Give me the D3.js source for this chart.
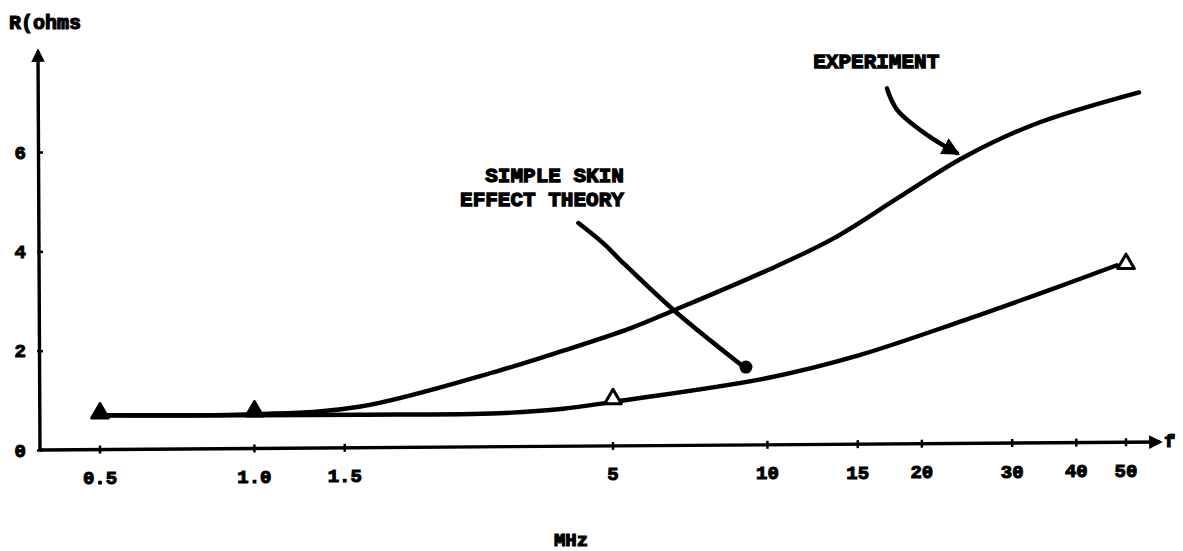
<!DOCTYPE html>
<html>
<head>
<meta charset="utf-8">
<script src="https://cdn.jsdelivr.net/npm/d3@7"></script>
<style>
  html, body { margin: 0; padding: 0; background: #fff; }
  svg { display: block; }
  text { font-family: "Liberation Mono", "DejaVu Sans Mono", monospace; font-weight: bold; fill: #000; stroke: #000; }
</style>
</head>
<body>
<svg id="chart" width="1183" height="551"></svg>
<script>
// ---------- data (MHz, ohms) ----------
const expFreq    = [0.5, 1.0, 1.6, 3.0, 4.0, 5.4, 6.6, 10, 13.4, 18, 24, 33, 53];
const expR       = [0.70, 0.72, 0.87, 1.60, 2.00, 2.45, 2.82, 3.62, 4.25, 5.08, 5.88, 6.55, 7.20];
const theoryFreq = [0.5, 1.0, 1.6, 3.0, 4.0, 5.0, 10, 15, 24, 35, 48];
const theoryR    = [0.70, 0.70, 0.71, 0.74, 0.83, 0.97, 1.45, 1.90, 2.60, 3.20, 3.72];
const markerFreq   = [0.5, 1.0, 5, 50];
const markerR      = [0.74, 0.78, 1.03, 3.75];
const markerFilled = [true, true, false, false];
const xTicks      = [0.5, 1.0, 1.5, 5, 10, 15, 20, 30, 40, 50];
const xTickLabels = ["0.5", "1.0", "1.5", "5", "10", "15", "20", "30", "40", "50"];
const yTicks      = [0, 2, 4, 6];
const yLabel = "R(ohms";
const xLabel = "MHz";
const xArrowLabel = "f";
// annotation paths in data units
const expArrowFreq = [17.1, 17.9, 20.5, 23.4];
const expArrowR    = [7.28, 6.85, 6.34, 5.98];
const expText = "EXPERIMENT";
const expTextAt = [16.3, 7.70];
const thArrowFreq = [4.28, 4.79, 5.17, 6.56, 9.0];
const thArrowR    = [4.57, 4.16, 3.82, 2.82, 1.67];
const thText = ["SIMPLE SKIN", "EFFECT THEORY"];
const thTextAt = [5.25, 5.40];

// ---------- layout ----------
const svg = d3.select("#chart");
const x = d3.scaleLog().domain([0.5, 50]).range([100, 1126]);
const y = d3.scaleLinear().domain([0, 6]).range([450, 152]);
const axisX0 = 40, axisXEnd = 1160, axisYTop = 45;

const defs = svg.append("defs");
defs.append("marker").attr("id", "arr").attr("viewBox", "0 0 10 10")
  .attr("refX", 8).attr("refY", 5).attr("markerWidth", 4).attr("markerHeight", 4)
  .attr("markerUnits", "strokeWidth").attr("orient", "auto")
  .append("path").attr("d", "M0,0 L10,5 L0,10 z").attr("fill", "#000");

// y axis
svg.append("line").attr("x1", axisX0).attr("x2", axisX0 - 2)
  .attr("y1", y(0)).attr("y2", axisYTop + 6)
  .attr("stroke", "#000").attr("stroke-width", 3.4).attr("marker-end", "url(#arr)");
const yAxis = svg.append("g").attr("transform", `translate(${axisX0},0)`)
  .call(d3.axisLeft(y).tickValues(yTicks).tickSize(4).tickPadding(10).tickFormat(d3.format("d")));
yAxis.select(".domain").remove();
yAxis.selectAll(".tick line").attr("x2", 3).attr("x1", -3).attr("stroke-width", 2.5);
yAxis.selectAll(".tick text").style("font-size", "19px").style("stroke-width", 1.1);

// x axis
svg.append("line").attr("x1", axisX0).attr("x2", axisXEnd)
  .attr("y1", y(0)).attr("y2", y(0) - 8)
  .attr("stroke", "#000").attr("stroke-width", 3.4).attr("marker-end", "url(#arr)");
const xAxis = svg.append("g").attr("transform", `translate(0,${y(0)})`)
  .call(d3.axisBottom(x).tickValues(xTicks).tickSize(4).tickPadding(17)
    .tickFormat((d, i) => xTickLabels[i]));
xAxis.select(".domain").remove();
xAxis.selectAll(".tick").attr("transform", d => {
  const px = x(d);
  const dy = -8 * (px - axisX0) / (axisXEnd - axisX0);
  return `translate(${px},${dy})`;
});
xAxis.selectAll(".tick line").attr("y1", -4).attr("y2", 4).attr("stroke-width", 2.5);
xAxis.selectAll(".tick text").style("font-size", "19px").style("stroke-width", 1.1);

// axis titles
svg.append("text").attr("x", 9).attr("y", 29).style("font-size", "20px")
  .style("stroke-width", 1.2).text(yLabel);
svg.append("text").attr("x", axisXEnd + 4).attr("y", y(0) - 3).style("font-size", "19px")
  .style("stroke-width", 1.1).text(xArrowLabel);
svg.append("text").attr("x", 571).attr("y", 546).attr("text-anchor", "middle")
  .style("font-size", "19px").style("stroke-width", 1.2).text(xLabel);

// curves
const line = d3.line().x(d => x(d[0])).y(d => y(d[1])).curve(d3.curveCatmullRom.alpha(0.5));
const expData = expFreq.map((f, i) => [f, expR[i]]);
const thData = theoryFreq.map((f, i) => [f, theoryR[i]]);
svg.append("path").attr("d", line(expData)).attr("fill", "none")
  .attr("stroke", "#000").attr("stroke-width", 4.4).attr("stroke-linecap", "round");
svg.append("path").attr("d", line(thData)).attr("fill", "none")
  .attr("stroke", "#000").attr("stroke-width", 4.4).attr("stroke-linecap", "round");

// triangle markers
const tri = d3.symbol().type(d3.symbolTriangle).size(120);
markerFreq.forEach((f, i) => {
  svg.append("path")
    .attr("d", tri())
    .attr("transform", `translate(${x(f)},${y(markerR[i])})`)
    .attr("fill", markerFilled[i] ? "#000" : "#fff")
    .attr("stroke", "#000").attr("stroke-width", 3).attr("stroke-linejoin", "round");
});

// annotations
const aline = d3.line().x(d => x(d[0])).y(d => y(d[1])).curve(d3.curveCatmullRom);
svg.append("path").attr("d", aline(expArrowFreq.map((f, i) => [f, expArrowR[i]])))
  .attr("fill", "none").attr("stroke", "#000").attr("stroke-width", 4.5)
  .attr("stroke-linecap", "round").attr("marker-end", "url(#arr)");
svg.append("text").attr("x", x(expTextAt[0])).attr("y", y(expTextAt[1]))
  .attr("text-anchor", "middle").style("font-size", "21px")
  .style("stroke-width", 1.3).text(expText);

svg.append("path").attr("d", aline(thArrowFreq.map((f, i) => [f, thArrowR[i]])))
  .attr("fill", "none").attr("stroke", "#000").attr("stroke-width", 4.5)
  .attr("stroke-linecap", "round");
svg.append("circle").attr("cx", x(thArrowFreq[thArrowFreq.length - 1]) + 2)
  .attr("cy", y(thArrowR[thArrowR.length - 1])).attr("r", 6.5).attr("fill", "#000");
thText.forEach((t, i) => {
  svg.append("text").attr("x", x(thTextAt[0])).attr("y", y(thTextAt[1]) + i * 24)
    .attr("text-anchor", "end").style("font-size", "21px")
    .style("stroke-width", 1.3).text(t);
});
</script>
</body>
</html>
